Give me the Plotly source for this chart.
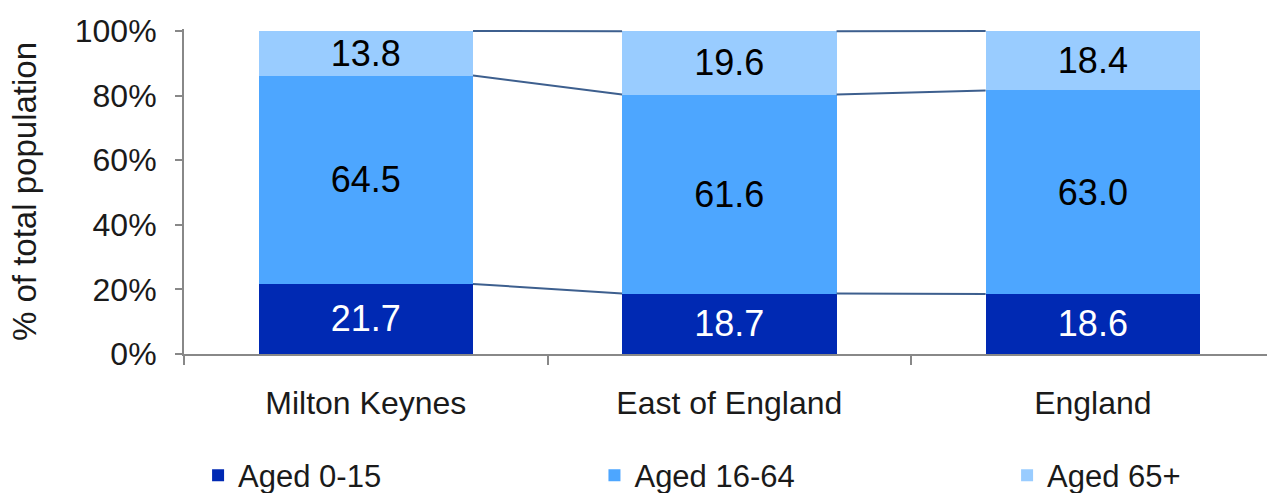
import plotly.graph_objects as go

# Population age structure by area (% of total population)
areas = ["Milton Keynes", "East of England", "England"]
aged_0_15 = [21.7, 18.7, 18.6]
aged_16_64 = [64.5, 61.6, 63.0]
aged_65_plus = [13.8, 19.6, 18.4]

series_names = ["Aged 0-15", "Aged 16-64", "Aged 65+"]
series_values = [aged_0_15, aged_16_64, aged_65_plus]
series_colors = ["#0029B3", "#4DA6FF", "#99CCFF"]
label_colors = ["white", "black", "black"]

BAR_WIDTH = 0.59
FONT = "Liberation Sans, Arial, sans-serif"
AXIS_GREY = "#888888"
TEXT = "#1a1a1a"

# one legend per series so each entry sits under its own column
legend_ids = ["legend", "legend2", "legend3"]
legend_x = [0.013, 0.379, 0.760]

fig = go.Figure()

positions = list(range(len(areas)))

for name, vals, col, tcol, lid in zip(series_names, series_values, series_colors, label_colors, legend_ids):
    fig.add_trace(go.Bar(
        x=positions,
        y=vals,
        name=name,
        legend=lid,
        width=BAR_WIDTH,
        marker=dict(color=col, line=dict(width=0)),
        text=[f"{v:.1f}" for v in vals],
        textposition="inside",
        insidetextanchor="middle",
        textangle=0,
        textfont=dict(family=FONT, size=36, color=tcol),
        constraintext="none",
        hoverinfo="skip",
    ))

# Series lines joining the top edge of each segment between neighbouring bars
cumulative = []
running = [0.0] * len(areas)
for vals in series_values:
    running = [r + v for r, v in zip(running, vals)]
    cumulative.append(list(running))

half = BAR_WIDTH / 2
for level in cumulative:
    for i in range(len(areas) - 1):
        fig.add_trace(go.Scatter(
            x=[i + half, i + 1 - half],
            y=[level[i], level[i + 1]],
            mode="lines",
            line=dict(color="#3D5F8E", width=2),
            showlegend=False,
            hoverinfo="skip",
        ))

legend_style = dict(
    orientation="h",
    xanchor="left",
    y=-0.291, yanchor="top",
    font=dict(family=FONT, size=31, color=TEXT),
    bgcolor="rgba(0,0,0,0)",
)

fig.update_layout(
    barmode="stack",
    width=1267,
    height=493,
    margin=dict(l=184, r=0, t=29, b=139, autoexpand=False),
    paper_bgcolor="white",
    plot_bgcolor="white",
    font=dict(family=FONT, size=32, color=TEXT),
    legend=dict(x=legend_x[0], **legend_style),
    legend2=dict(x=legend_x[1], **legend_style),
    legend3=dict(x=legend_x[2], **legend_style),
    showlegend=True,
)

fig.update_xaxes(
    tickmode="array",
    tickvals=positions,
    ticktext=areas,
    range=[-0.5, 2.479],
    ticks="",
    showline=True,
    linecolor=AXIS_GREY,
    linewidth=2,
    showgrid=False,
    zeroline=False,
    tickfont=dict(family=FONT, size=32, color=TEXT),
    ticklabelstandoff=20,
    minor=dict(
        tickmode="array",
        tickvals=[p - 0.5 for p in positions],
        ticks="outside",
        ticklen=9,
        tickwidth=2,
        tickcolor=AXIS_GREY,
        showgrid=False,
    ),
)

fig.update_yaxes(
    range=[0, 100.6],
    tickmode="array",
    tickvals=[0, 20, 40, 60, 80, 100],
    ticktext=["0%", "20%", "40%", "60%", "80%", "100%"],
    ticks="outside",
    ticklen=7,
    tickwidth=2,
    tickcolor=AXIS_GREY,
    showline=True,
    linecolor=AXIS_GREY,
    linewidth=2,
    showgrid=False,
    zeroline=False,
    tickfont=dict(family=FONT, size=32, color=TEXT),
    ticklabelstandoff=12,
    title=dict(text="% of total population", font=dict(family=FONT, size=33, color=TEXT), standoff=28),
)

fig.write_html("out.html")
